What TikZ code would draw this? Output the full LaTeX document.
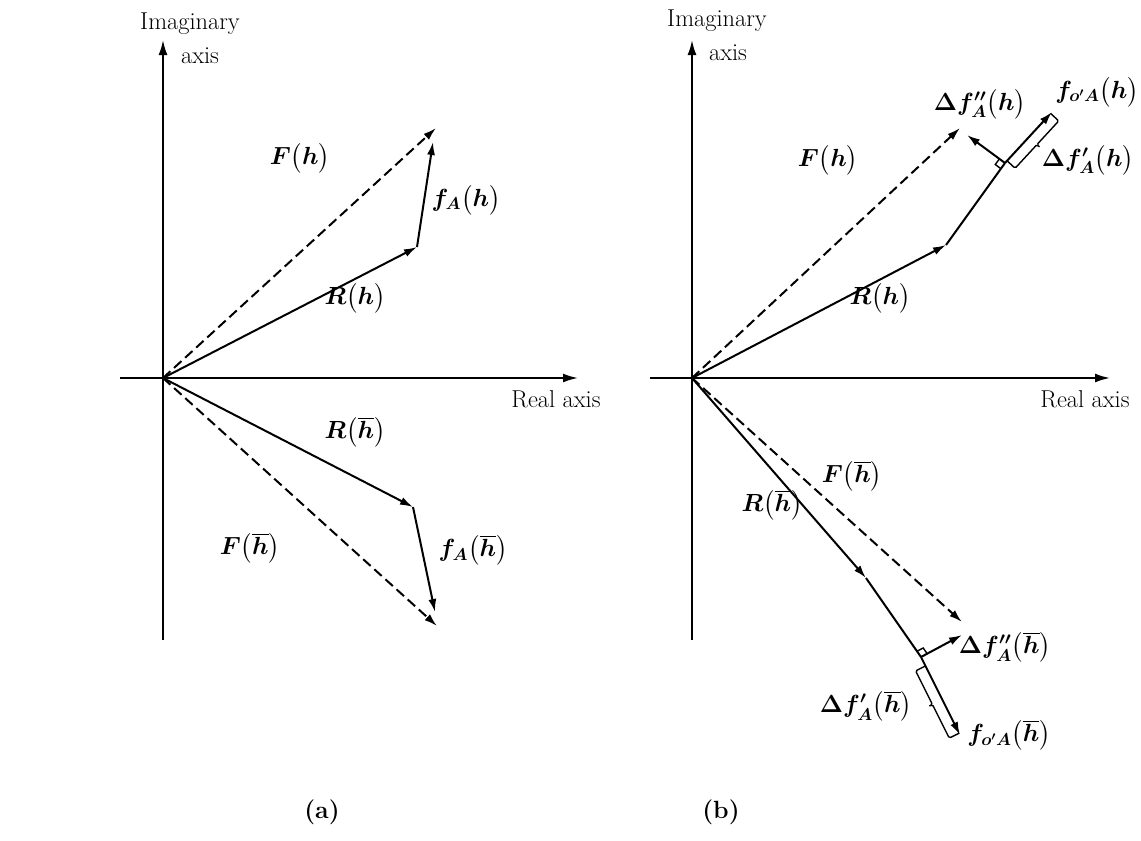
\documentclass[tikz,border=0pt]{standalone}
\usepackage{amsmath}
\usetikzlibrary{arrows.meta,calc}
\begin{document}
\begin{tikzpicture}[x=1bp,y=-1bp,
  axisline/.style={line width=2bp,-{Latex[length=15bp,width=9bp]}},
  vec/.style={line width=2bp,-{Latex[length=13bp,width=8bp]}},
  dvec/.style={vec,dash pattern=on 10bp off 5bp},
  plain/.style={line width=2bp},
  thinl/.style={line width=1.4bp},
  lbl/.style={font=\fontsize{23}{34}\selectfont\boldmath,inner sep=1bp},
  axlbl/.style={font=\fontsize{24.5}{27}\selectfont,inner sep=1bp},
  panelcap/.style={font=\fontsize{25}{27}\selectfont\bfseries,inner sep=1bp}]
\useasboundingbox (0,0) rectangle (1141,841);

% ---------------- panel (a) ----------------
\coordinate (Oa) at (163,378);
\coordinate (Iabot) at (163,640);
\coordinate (Iatop) at (163,40);
\coordinate (Raleft) at (120,378);
\coordinate (Raright) at (578,378);
\coordinate (Ra) at (417,247);
\coordinate (fa) at (433,142);
\coordinate (Fa) at (436,128);
\coordinate (Rab) at (413,507);
\coordinate (fab) at (435,612);
\coordinate (Fab) at (437,626);

\draw[axisline] (Iabot) -- (Iatop);
\draw[axisline] (Raleft) -- (Raright);
\draw[vec] (Oa) -- (Ra);
\draw[vec] (Ra) -- (fa);
\draw[dvec] (Oa) -- (Fa);
\draw[vec] (Oa) -- (Rab);
\draw[vec] (Rab) -- (fab);
\draw[dvec] (Oa) -- (Fab);

\node[axlbl] (ima) at (190,24) {Imaginary};
\node[axlbl] (axa) at (200,56) {axis};
\node[axlbl] (rea) at (556,399) {Real axis};
\node[lbl] (lFa) at (300,158) {$F\bigl(h\bigr)$};
\node[lbl] (lfa) at (466,200) {$f_{A}\bigl(h\bigr)$};
\node[lbl] (lRa) at (355,298) {$R\bigl(h\bigr)$};
\node[lbl] (lRab) at (355,432) {$R\bigl(\overline{h}\bigr)$};
\node[lbl] (lFab) at (250,548) {$F\bigl(\overline{h}\bigr)$};
\node[lbl] (lfab) at (473,550) {$f_{A}\bigl(\overline{h}\bigr)$};
\node[panelcap] (capa) at (322,812) {(a)};

% ---------------- panel (b) ----------------
\coordinate (Ob) at (692,378);
\coordinate (Ibbot) at (692,640);
\coordinate (Ibtop) at (692,40);
\coordinate (Rbleft) at (650,378);
\coordinate (Rbright) at (1110,378);
% upper half
\coordinate (Rb) at (946,245);
\coordinate (foot1) at (1005,163);
\coordinate (tip1) at (1052,112);
\coordinate (Fb) at (960,128);
\coordinate (d1) at (967,135);
% lower half
\coordinate (Rbb) at (866,578);
\coordinate (foot2) at (921,657);
\coordinate (tip2) at (960,735);
\coordinate (Fbb) at (962,622);
\coordinate (d2) at (962,635);

\draw[axisline] (Ibbot) -- (Ibtop);
\draw[axisline] (Rbleft) -- (Rbright);

\draw[vec] (Ob) -- (Rb);
\draw[plain] (Rb) -- (foot1);
\draw[vec] (foot1) -- (tip1);
\draw[vec] (foot1) -- (d1);
\draw[dvec] (Ob) -- (Fb);

\draw[vec] (Ob) -- (Rbb);
\draw[plain] (Rbb) -- (foot2);
\draw[vec] (foot2) -- (tip2);
\draw[vec] (foot2) -- (d2);
\draw[dvec] (Ob) -- (Fbb);

% right-angle marks
\coordinate (s1a) at ($(foot1)!7bp!(d1)$);
\coordinate (s1b) at ($(foot1)!7bp!(Rb)$);
\draw[thinl] (s1a) -- ($(s1a)+(s1b)-(foot1)$) -- (s1b);
\coordinate (s2a) at ($(foot2)!7bp!(d2)$);
\coordinate (s2b) at ($(foot2)!7bp!(Rbb)$);
\draw[thinl] (s2a) -- ($(s2a)+(s2b)-(foot2)$) -- (s2b);

% brackets for Delta f'
\coordinate (A1) at ($(foot1)!3bp!(tip1)$);
\coordinate (B1) at ($(tip1)!2bp!(foot1)$);
\coordinate (A1o) at ($(A1)!11bp!-90:(tip1)$);
\coordinate (B1o) at ($(B1)!11bp!90:(foot1)$);
\coordinate (M1) at ($(A1o)!0.5!(B1o)$);
\coordinate (M1t) at ($(M1)!5bp!-90:(B1o)$);
\draw[thinl,rounded corners=1.5bp] (A1) -- (A1o) -- (M1) -- (M1t) -- (M1) -- (B1o) -- (B1);

\coordinate (A2) at ($(foot2)!10bp!(tip2)$);
\coordinate (B2) at ($(tip2)!2bp!(foot2)$);
\coordinate (A2o) at ($(A2)!11bp!-90:(tip2)$);
\coordinate (B2o) at ($(B2)!11bp!90:(foot2)$);
\coordinate (M2) at ($(A2o)!0.5!(B2o)$);
\coordinate (M2t) at ($(M2)!5bp!-90:(B2o)$);
\draw[thinl,rounded corners=1.5bp] (A2) -- (A2o) -- (M2) -- (M2t) -- (M2) -- (B2o) -- (B2);

\node[axlbl] (imb) at (717,21) {Imaginary};
\node[axlbl] (axb) at (728,53) {axis};
\node[axlbl] (reb) at (1085,399) {Real axis};
\node[lbl] (lFb) at (828,160) {$F\bigl(h\bigr)$};
\node[lbl] (lRb) at (880,298) {$R\bigl(h\bigr)$};
\node[lbl] (ldpp1) at (980,104) {$\Delta f''_{A}\bigl(h\bigr)$};
\node[lbl] (lfo1) at (1097,92) {$f_{o'A}\bigl(h\bigr)$};
\node[lbl] (ldp1) at (1088,160) {$\Delta f'_{A}\bigl(h\bigr)$};
\node[lbl] (lRbb) at (772,505) {$R\bigl(\overline{h}\bigr)$};
\node[lbl] (lFbb) at (852,476) {$F\bigl(\overline{h}\bigr)$};
\node[lbl] (ldpp2) at (1005,647) {$\Delta f''_{A}\bigl(\overline{h}\bigr)$};
\node[lbl] (ldp2) at (866,706) {$\Delta f'_{A}\bigl(\overline{h}\bigr)$};
\node[lbl] (lfo2) at (1009,735) {$f_{o'A}\bigl(\overline{h}\bigr)$};
\node[panelcap] (capb) at (721,812) {(b)};
\end{tikzpicture}
\end{document}
